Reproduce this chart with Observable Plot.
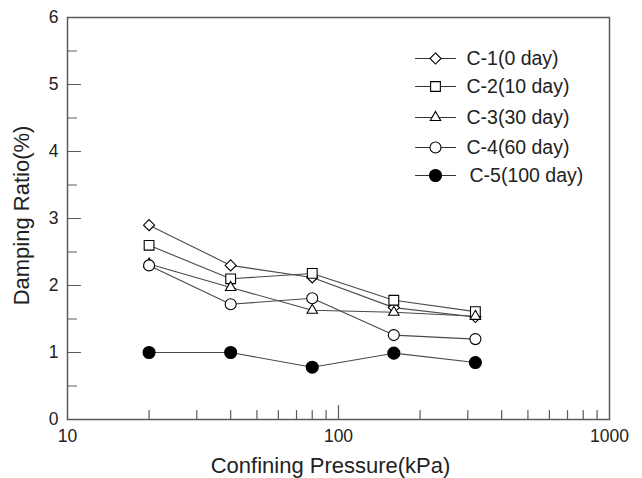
<!DOCTYPE html>
<html><head><meta charset="utf-8">
<script src="https://cdn.jsdelivr.net/npm/d3@7"></script>
<script src="https://cdn.jsdelivr.net/npm/@observablehq/plot@0.6"></script>
<style>html,body{margin:0;padding:0;background:#fff}svg{display:block}</style>
</head><body><div id="chart"></div>
<script>
// ---- data ----
const pressures = [20, 40, 80, 160, 320];
const seriesNames = ["C-1(0 day)", "C-2(10 day)", "C-3(30 day)", "C-4(60 day)", "C-5(100 day)"];
const c1 = [2.90, 2.30, 2.12, 1.67, 1.53];
const c2 = [2.60, 2.10, 2.18, 1.78, 1.61];
const c3 = [2.32, 1.97, 1.63, 1.60, 1.54];
const c4 = [2.30, 1.72, 1.81, 1.26, 1.20];
const c5 = [1.00, 1.00, 0.78, 0.99, 0.85];
const xTickLabels = [10, 100, 1000];
const xMinorTicks = [20, 30, 40, 50, 60, 70, 80, 90, 200, 300, 400, 500, 600, 700, 800, 900];
const yTickLabels = [0, 1, 2, 3, 4, 5, 6];
const yMinorTicks = [0.5, 1.5, 2.5, 3.5, 4.5, 5.5];

// ---- styling ----
const seriesValues = [c1, c2, c3, c4, c5];
const markerStyles = [
  {symbol: "diamond2", r: 5, fill: "white"},
  {symbol: "square", r: 5.5, fill: "white"},
  {symbol: "triangle2", r: 5, fill: "white"},
  {symbol: "circle", r: 5.5, fill: "white"},
  {symbol: "circle", r: 6, fill: "black"}
];
const legendDy = [41, 69, 100, 130, 158];

const rows = [];
seriesNames.forEach((s, i) => pressures.forEach((p, j) => rows.push({s, i, p, v: seriesValues[i][j]})));

const seg = {draw(ctx, l) { ctx.moveTo(0, 0); ctx.lineTo(0, -l); }};
const axisColor = "#5a5a5a";

const marks = [
  Plot.frame({stroke: axisColor, strokeWidth: 1.5}),
  // x ticks (inward)
  Plot.vector(xMinorTicks, {x: d => d, frameAnchor: "bottom", length: 9, rotate: 0, anchor: "start", shape: seg, stroke: axisColor, strokeWidth: 1.2}),
  Plot.vector([100], {x: d => d, frameAnchor: "bottom", length: 14, rotate: 0, anchor: "start", shape: seg, stroke: axisColor, strokeWidth: 1.2}),
  // y ticks (inward)
  Plot.vector(yTickLabels, {y: d => d, frameAnchor: "left", length: 13, rotate: 90, anchor: "start", shape: seg, stroke: axisColor, strokeWidth: 1.2}),
  Plot.vector(yMinorTicks, {y: d => d, frameAnchor: "left", length: 9, rotate: 90, anchor: "start", shape: seg, stroke: axisColor, strokeWidth: 1.2}),
  Plot.axisX({ticks: xTickLabels, tickSize: 0, tickPadding: 10, tickFormat: d => String(d), fontSize: 17.5, label: null}),
  Plot.axisY({ticks: yTickLabels, tickSize: 0, tickPadding: 9, tickFormat: d => String(d), fontSize: 17.5, label: null}),
  Plot.text(["Confining Pressure(kPa)"], {frameAnchor: "bottom", textAnchor: "middle", dx: -8, dy: 46, fontSize: 22, lineAnchor: "middle", fill: "#222"}),
  Plot.text(["Damping Ratio(%)"], {frameAnchor: "left", textAnchor: "middle", rotate: -90, dx: -46, dy: -3, fontSize: 22, lineAnchor: "middle", fill: "#222"}),
  Plot.line(rows, {x: "p", y: "v", z: "s", stroke: "#4a4a4a", strokeWidth: 1.1})
];

seriesNames.forEach((name, i) => {
  const st = markerStyles[i];
  marks.push(Plot.dot(rows.filter(d => d.i === i), {x: "p", y: "v", symbol: () => st.symbol, r: st.r, fill: st.fill, stroke: "black", strokeWidth: 1.1}));
  // legend entry
  marks.push(Plot.vector([name], {frameAnchor: "top-left", dx: 368, dy: legendDy[i], length: 40, rotate: 90, anchor: "middle", shape: seg, stroke: "#333", strokeWidth: 1.1}));
  marks.push(Plot.dot([name], {frameAnchor: "top-left", dx: 368, dy: legendDy[i], symbol: () => st.symbol, r: st.r, fill: st.fill, stroke: "black", strokeWidth: 1.1}));
  marks.push(Plot.text([name], {frameAnchor: "top-left", dx: 399 + (i === 4 ? 3 : 0), dy: legendDy[i], textAnchor: "start", lineAnchor: "middle", fontSize: 19.5, fill: "#222"}));
});

const chart = Plot.plot({
  width: 642,
  height: 478,
  marginLeft: 67,
  marginRight: 33,
  marginTop: 17,
  marginBottom: 59,
  style: {fontFamily: "'Liberation Sans', Arial, sans-serif", fontSize: "17px", color: "#222", background: "#fff"},
  x: {type: "log", domain: [10, 1000]},
  y: {domain: [0, 6]},
  marks
});
document.getElementById("chart").appendChild(chart);
</script>
</body></html>
